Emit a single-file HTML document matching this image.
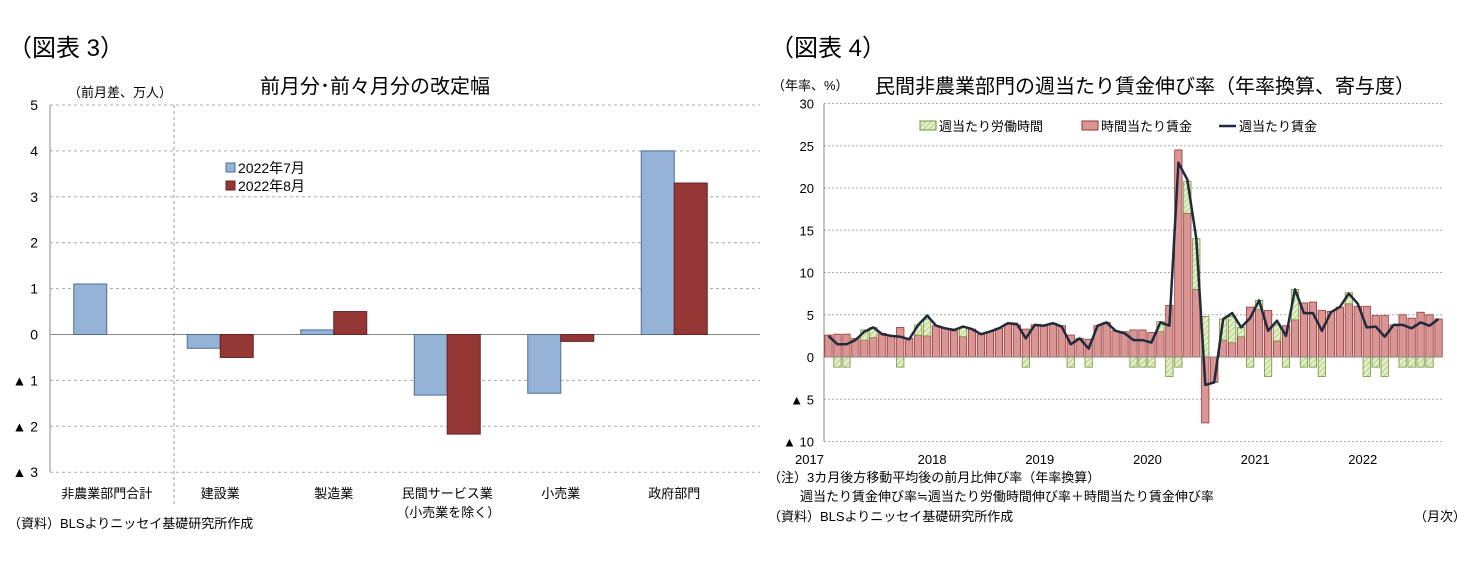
<!DOCTYPE html>
<html><head><meta charset="utf-8">
<style>
body{margin:0;background:#fff;width:1479px;height:566px;overflow:hidden;font-family:"Liberation Sans","Noto Sans CJK JP",sans-serif;}
svg text{font-family:"Liberation Sans","Noto Sans CJK JP",sans-serif;fill:#000;}
</style></head><body>
<svg id="s" width="1479" height="566">
<defs>
<pattern id="hatch" width="4" height="4" patternUnits="userSpaceOnUse" patternTransform="rotate(45)">
<rect width="4" height="4" fill="#e3efc6"/><line x1="0" y1="0" x2="0" y2="4" stroke="#a9c47a" stroke-width="1.5"/>
</pattern>
</defs>
<text x="8" y="56" font-size="24">（図表 3）</text>
<text x="770" y="56" font-size="24">（図表 4）</text>
<text x="375" y="93" font-size="20" text-anchor="middle">前月分･前々月分の改定幅</text>
<text x="68" y="97" font-size="13">（前月差、万人）</text>
<text x="772" y="90" font-size="13">（年率、%）</text>
<text x="1145" y="93" font-size="20" text-anchor="middle">民間非農業部門の週当たり賃金伸び率（年率換算、寄与度）</text>
<g id="c3"></g><g id="c4"></g>
<text x="8" y="528" font-size="13">（資料）BLSよりニッセイ基礎研究所作成</text>
<text x="768" y="482" font-size="13">（注）3カ月後方移動平均後の前月比伸び率（年率換算）</text>
<text x="800" y="501" font-size="13">週当たり賃金伸び率≒週当たり労働時間伸び率＋時間当たり賃金伸び率</text>
<text x="768" y="521" font-size="13">（資料）BLSよりニッセイ基礎研究所作成</text>
<text x="1466" y="521" font-size="13" text-anchor="end">（月次）</text>
</svg>
<script>
const NS="http://www.w3.org/2000/svg";
function mk(p,t,a){const e=document.createElementNS(NS,t);for(const k in a)e.setAttribute(k,a[k]);p.appendChild(e);return e;}
// ---- Chart 3 data ----
const c3Categories=["非農業部門合計","建設業","製造業","民間サービス業","小売業","政府部門"];
const c3Jul=[1.1,-0.3,0.1,-1.32,-1.28,4.0];
const c3Aug=[null,-0.5,0.5,-2.17,-0.15,3.3];
const c3Ticks=[5,4,3,2,1,0,-1,-2,-3];
const c3TickLabels=["5","4","3","2","1","0","▲ 1","▲ 2","▲ 3"];
// ---- Chart 4 data (Jan 2017 - Sep 2022) ----
const c4Hourly=[2.6,2.7,2.7,2.2,2.0,2.3,2.8,2.5,3.5,2.2,2.6,2.5,3.7,3.4,3.1,2.4,3.3,2.7,3.0,3.4,3.9,3.8,3.3,3.8,3.7,4.0,3.7,2.6,2.2,2.1,3.7,4.1,3.1,3.0,3.2,3.2,2.9,3.0,6.1,24.5,17.0,8.0,-7.8,-3.0,2.0,1.7,2.4,5.9,5.6,5.5,1.9,3.7,4.4,6.4,6.5,5.5,5.4,5.9,6.3,6.0,6.0,4.9,4.9,3.8,5.0,4.6,5.3,5.0,4.5];
const c4Hours=[0,-1.2,-1.2,0,1.2,1.2,0,0,-1.2,0,1.2,2.0,0,0,0,1.1,0,0,0,0,0,0,-1.2,0,0,0,0,-1.2,0,-1.2,0,0,0,0,-1.2,-1.2,-1.2,1.2,-2.3,-1.2,3.8,6.0,4.8,0,2.5,3.1,1.1,-1.2,1.1,-2.3,1.9,-1.2,3.6,-1.2,-1.2,-2.3,0,0,1.3,0,-2.3,-1.2,-2.3,0,-1.2,-1.2,-1.2,-1.2,0];
const c4Weekly=[2.5,1.5,1.5,2.0,3.0,3.5,2.7,2.5,2.4,2.1,3.8,4.9,3.7,3.4,3.2,3.6,3.3,2.7,3.0,3.4,4.0,3.9,2.2,3.8,3.7,4.0,3.6,1.5,2.2,1.0,3.7,4.1,3.1,2.8,2.0,2.0,1.7,4.1,3.7,23.0,21.0,14.0,-3.3,-3.0,4.5,5.2,3.5,4.6,6.7,3.1,4.3,2.5,8.0,5.2,5.2,3.1,5.3,5.9,7.5,6.3,3.5,3.6,2.4,3.8,3.8,3.4,4.1,3.7,4.5];
const c4Ticks=[30,25,20,15,10,5,0,-5,-10];
const c4TickLabels=["30","25","20","15","10","5","0","▲ 5","▲ 10"];
const c4Years=["2017","2018","2019","2020","2021","2022"];

// Chart 3
(function(){
const g=document.getElementById('c3');
const L=50,R=760,cw=113.5,y=v=>334.5-v*45.9;
c3Ticks.forEach((t,i)=>{
 const ln=mk(g,'line',{x1:L,x2:R,y1:y(t),y2:y(t),stroke:t===0?'#888':'#aaa','stroke-dasharray':t===0?'':'3,3'});
 
 const tx=mk(g,'text',{x:38,y:y(t)+5,'font-size':14,'text-anchor':'end'});tx.textContent=c3TickLabels[i];
 
});
const ax=mk(g,'line',{x1:L,x2:L,y1:y(5),y2:y(-3),stroke:'#888'});

const sep=mk(g,'line',{x1:174,x2:174,y1:y(5),y2:505,stroke:'#999','stroke-dasharray':'3,3'});

c3Categories.forEach((c,i)=>{
 const cx=L+cw*(i+0.5);
 [[c3Jul[i],'#95b3d7','#4f6d95',-33],[c3Aug[i],'#953735','#632523',0]].forEach(([v,f,s,o],k)=>{
  if(v===null)return;
  const r=mk(g,'rect',{x:cx+o,width:33,y:Math.min(y(v),y(0)),height:Math.abs(y(v)-y(0)),fill:f,stroke:s,'stroke-width':1});
  
 });
 const lab=c==="民間サービス業"?["民間サービス業","（小売業を除く）"]:[c];
 lab.forEach((s,j)=>{const t=mk(g,'text',{x:cx+(j?1:0),y:498+j*19,'font-size':13,'text-anchor':'middle'});t.textContent=s;
 });
});
[['#95b3d7','#4f6d95','2022年7月'],['#953735','#632523','2022年8月']].forEach((d,i)=>{
 const r=mk(g,'rect',{x:226,y:163+i*18,width:9,height:9,fill:d[0],stroke:d[1]});
 
 const t=mk(g,'text',{x:238,y:173+i*18,'font-size':14});t.textContent=d[2];
 
});
})();

// Chart 4
(function(){
const g=document.getElementById('c4');
const L=824,R=1443,n=c4Hourly.length,sw=(R-L)/n,y=v=>357-v*8.45,xc=i=>L+sw*(i+0.5);
c4Ticks.forEach((t,i)=>{
 if(t!==0){const ln=mk(g,'line',{x1:L,x2:R,y1:y(t),y2:y(t),stroke:'#aaa','stroke-dasharray':'2,2'});
 }
 const tx=mk(g,'text',{x:814,y:y(t)+5,'font-size':13,'text-anchor':'end'});tx.textContent=c4TickLabels[i];
 
});
const ax=mk(g,'line',{x1:L,x2:L,y1:y(30),y2:y(-10),stroke:'#888'});

for(let i=0;i<n;i++){
 const h=c4Hourly[i],w=c4Hours[i],bw=sw-1.6,x=xc(i)-bw/2;
 const r=mk(g,'rect',{x:x,width:bw,y:Math.min(y(h),y(0)),height:Math.abs(y(h)-y(0)),fill:'#da9694',stroke:'#963634','stroke-width':0.8});
 
 if(w!==0){
  let b0=0;
  if(w>0&&h>0)b0=h; if(w<0&&h<0)b0=h;
  const gr=mk(g,'rect',{x:x,width:bw,y:Math.min(y(b0+w),y(b0)),height:Math.abs(y(w)-y(0)),fill:'url(#hatch)',stroke:'#76923c','stroke-width':0.8});
  
 }
}
const zl=mk(g,'line',{x1:L,x2:R,y1:y(0),y2:y(0),stroke:'#888'});

const pts=c4Weekly.map((v,i)=>xc(i).toFixed(1)+','+y(v).toFixed(1)).join(' ');
const pl=mk(g,'polyline',{points:pts,fill:'none',stroke:'#1f2a3c','stroke-width':2.5,'stroke-linejoin':'round'});

c4Years.forEach((yr,k)=>{
 const t=mk(g,'text',{x:k===0?xc(0)-19:xc(k*12)-4,y:464,'font-size':13,'text-anchor':'middle'});t.textContent=yr;
 
});
const lg=[['url(#hatch)','#76923c','週当たり労働時間',920],['#da9694','#963634','時間当たり賃金',1082]];
lg.forEach(d=>{
 const r=mk(g,'rect',{x:d[3],y:121,width:16,height:9,fill:d[0],stroke:d[1]});
 
 const t=mk(g,'text',{x:d[3]+19,y:131,'font-size':13});t.textContent=d[2];
 
});
const ll=mk(g,'line',{x1:1219,x2:1236,y1:126,y2:126,stroke:'#1f2a3c','stroke-width':2.5});

const lt=mk(g,'text',{x:1239,y:131,'font-size':13});lt.textContent='週当たり賃金';

})();
</script>
</body></html>
